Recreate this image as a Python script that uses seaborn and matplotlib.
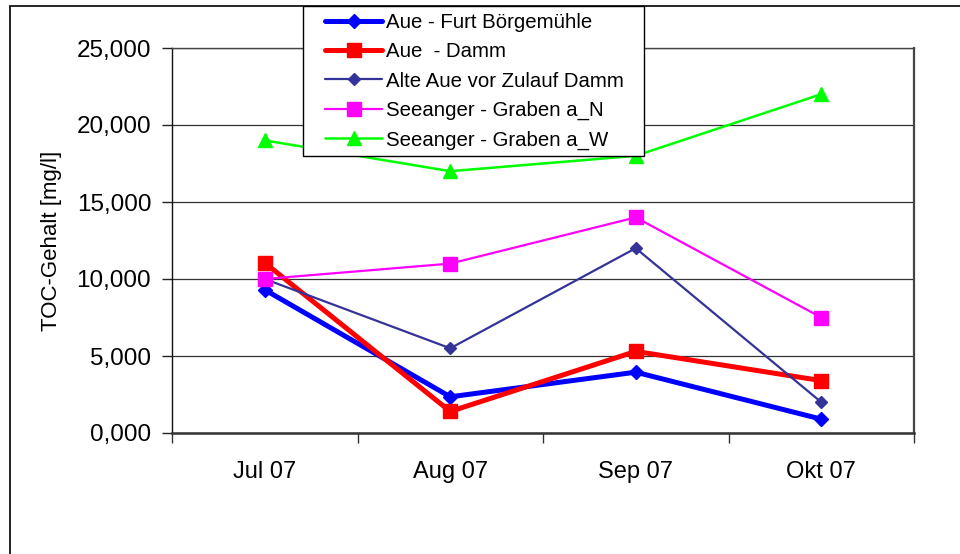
import matplotlib
matplotlib.use("Agg")
import matplotlib.pyplot as plt
import seaborn as sns
import pandas as pd
from matplotlib.patches import Rectangle
from matplotlib.ticker import FuncFormatter, FixedLocator

# Monthly TOC content per sampling point (mg/l)
months = ["Jul 07", "Aug 07", "Sep 07", "Okt 07"]
series_names = [
    "Aue - Furt Börgemühle",
    "Aue  - Damm",
    "Alte Aue vor Zulauf Damm",
    "Seeanger - Graben a_N",
    "Seeanger - Graben a_W",
]
furt_boergemuehle = [9.3, 2.35, 3.95, 0.9]
aue_damm = [11.05, 1.4, 5.3, 3.4]
alte_aue = [10.0, 5.5, 12.0, 2.0]
graben_n = [10.0, 11.0, 14.0, 7.5]
graben_w = [19.0, 17.0, 18.0, 22.0]
y_ticks = [0, 5, 10, 15, 20, 25]

values = [furt_boergemuehle, aue_damm, alte_aue, graben_n, graben_w]
rows = []
for name, vals in zip(series_names, values):
    for i, (m, v) in enumerate(zip(months, vals)):
        rows.append({"Messstelle": name, "pos": i, "Monat": m, "TOC": v})
df = pd.DataFrame(rows)

styles = {
    "Aue - Furt Börgemühle": dict(color="#0000FF", marker="D", lw=3.6, ms=7.0),
    "Aue  - Damm": dict(color="#FF0000", marker="s", lw=3.6, ms=9.5),
    "Alte Aue vor Zulauf Damm": dict(color="#333399", marker="D", lw=1.6, ms=6.5),
    "Seeanger - Graben a_N": dict(color="#FF00FF", marker="s", lw=1.6, ms=9.5),
    "Seeanger - Graben a_W": dict(color="#00FF00", marker="^", lw=1.8, ms=10.5),
}

sns.set_style("white")
plt.rcParams["font.family"] = ["Liberation Sans", "DejaVu Sans"]
plt.rcParams["text.color"] = "black"
plt.rcParams["axes.labelcolor"] = "black"
plt.rcParams["xtick.color"] = "black"
plt.rcParams["ytick.color"] = "black"

fig = plt.figure(figsize=(9.6, 5.54), dpi=100)
ax = fig.add_axes([172 / 960, 1 - 433 / 554, (914 - 172) / 960, (433 - 48) / 554])

for z, name in enumerate(series_names):
    st = styles[name]
    sns.lineplot(
        data=df[df["Messstelle"] == name], x="pos", y="TOC", ax=ax,
        color=st["color"], marker=st["marker"], linewidth=st["lw"],
        markersize=st["ms"], markeredgecolor=st["color"], markeredgewidth=1,
        label=name, zorder=3 + z, legend=False,
    )

ax.set_xlim(-0.5, 3.5)
ax.set_ylim(0, 25)
ax.xaxis.set_major_locator(FixedLocator([-0.5, 0.5, 1.5, 2.5, 3.5]))
ax.xaxis.set_minor_locator(FixedLocator(range(len(months))))
ax.set_xticklabels([], minor=False)
ax.set_xticklabels(months, minor=True)
ax.tick_params(axis="x", which="major", direction="out", length=7, width=1,
               color="#333333", bottom=True)
ax.tick_params(axis="x", which="minor", length=0, pad=20, labelsize=17,
               labelcolor="black")
ax.set_yticks(y_ticks)
ax.yaxis.set_major_formatter(FuncFormatter(lambda v, p: f"{v:.3f}".replace(".", ",")))
ax.tick_params(axis="y", direction="out", length=7, width=1, color="#222222",
               left=True, pad=8, labelsize=17.5, labelcolor="black")
ax.set_xlabel("")
ax.set_ylabel("TOC-Gehalt [mg/l]", fontsize=16, color="black")
ax.yaxis.set_label_coords(-0.148, 0.5)

ax.yaxis.grid(True, color="#333333", linewidth=0.9)
ax.set_axisbelow(True)
for side in ["left", "right", "top", "bottom"]:
    ax.spines[side].set_visible(True)
ax.spines["left"].set_color("#111111")
ax.spines["left"].set_linewidth(1.0)
ax.spines["top"].set_color("#444444")
ax.spines["top"].set_linewidth(1.0)
ax.spines["right"].set_color("#444444")
ax.spines["right"].set_linewidth(1.6)
ax.spines["bottom"].set_color("#333333")
ax.spines["bottom"].set_linewidth(1.8)

# Legend box sits at figure level, partly over the plot area
fig.add_artist(Rectangle((303 / 960, 1 - 156 / 554), (644 - 303) / 960, 150 / 554,
                         transform=fig.transFigure, facecolor="white",
                         edgecolor="black", linewidth=1.0, zorder=10))
handles, labels = ax.get_legend_handles_labels()
leg = fig.legend(handles, labels, loc="upper left",
                 bbox_to_anchor=(315 / 960, 1 - 3 / 554),
                 bbox_transform=fig.transFigure, frameon=False, borderpad=0,
                 fontsize=14.7, handlelength=2.8, handletextpad=0.2,
                 labelspacing=0.5, labelcolor="black")
leg.set_zorder(11)

# Outer chart frame
fig.add_artist(Rectangle((9.5 / 960, -0.1), 1.2, 1.1 - 6.5 / 554,
                         transform=fig.transFigure, fill=False,
                         edgecolor="black", linewidth=1.2, zorder=1))

fig.savefig("out.png", dpi=100)
